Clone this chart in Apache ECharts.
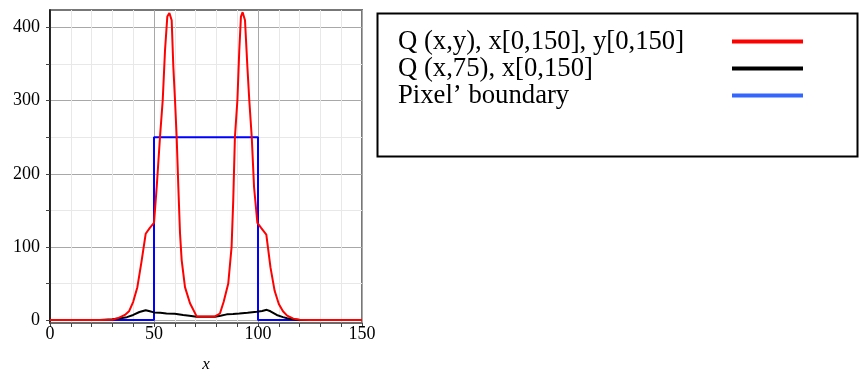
<!DOCTYPE html>
<html>
<head>
<meta charset="utf-8">
<script src="https://cdn.jsdelivr.net/npm/echarts@6/dist/echarts.min.js"></script>
<style>
  html, body { margin: 0; padding: 0; background: #fff; }
  #chart { width: 859px; height: 373px; }
</style>
</head>
<body>
<div id="chart"></div>
<script>
// Q(x,y) over the full domain (red)
const redX = [0, 24, 30, 33, 36, 38, 40, 42, 44, 46, 48, 50, 51.3, 52.9, 54.2, 55.3, 56.4, 57.4, 58.5, 59.3, 60.1, 60.9, 61.7, 62.5, 63.3, 64.9, 67.3, 70.5,
  79.3, 81.7, 83.5, 85.7, 87.3, 88.1, 88.9, 90.1, 91, 91.8, 92.6, 93.75, 94.9, 95.8, 97, 98.1, 99.7, 101.5, 104, 106, 108, 110, 112, 114, 117, 120, 125, 150];
const redY = [0, 0, 0.5, 3, 7, 12, 25, 45, 80, 118, 126, 133, 182, 251, 301, 369, 415, 420, 410, 346, 301, 250, 182, 119, 82, 45, 23, 5,
  5, 9, 25, 50, 100, 164, 250, 301, 369, 415, 421, 410, 346, 301, 250, 182, 133, 126, 117, 72, 40, 22, 12, 6, 2, 0.5, 0, 0];

// Q(x,75) (black)
const blackX = [0, 24, 30, 34, 37, 40, 43, 46, 48, 50, 53, 56, 60, 64, 67, 70.5, 79.3, 82, 85, 88, 91, 95, 99.4, 102, 104.2, 106, 109, 112, 114, 117, 120, 150];
const blackY = [0, 0, 1, 2.5, 4, 7, 11, 13.5, 12, 10.5, 10, 9, 8.5, 7, 6, 4.6, 4.6, 6, 7.8, 8.3, 9, 10, 11.4, 12.5, 14, 12, 7, 4, 2.5, 1, 0, 0];

// pixel boundary (blue)
const blueX = [0, 50, 50, 100, 100, 150];
const blueY = [0, 0, 250, 250, 0, 0];

const seriesNames = ['Q (x,y), x[0,150], y[0,150]', 'Q (x,75), x[0,150]', 'Pixel\u2019 boundary'];

const yTicks = [0, 50, 100, 150, 200, 250, 300, 350, 400];
const yLabels = [0, 100, 200, 300, 400];
const xLabels = [0, 50, 100, 150];

const pairs = (xs, ys) => xs.map((x, i) => [x, ys[i]]);

const serif = '"Liberation Serif", "Times New Roman", serif';
const chart = echarts.init(document.getElementById('chart'));

chart.setOption({
  animation: false,
  backgroundColor: '#fff',
  grid: {
    left: 50, right: 497, top: 10, bottom: 50,
    outerBoundsMode: 'none', containLabel: false,
    show: true, borderColor: '#777', borderWidth: 2, backgroundColor: 'transparent'
  },
  xAxis: {
    type: 'value', min: 0, max: 150, interval: 10,
    name: 'x', nameLocation: 'middle', nameGap: 33, nameMoveOverlap: false,
    nameTextStyle: { fontFamily: serif, fontStyle: 'italic', fontSize: 17, color: '#000' },
    axisLine: { show: true, onZero: false, lineStyle: { color: '#666', width: 1.5 } },
    axisTick: { show: true, inside: false, length: 4, lineStyle: { color: '#444' } },
    axisLabel: { customValues: xLabels, fontFamily: serif, fontSize: 18, color: '#000', margin: 2 },
    splitLine: { show: true, lineStyle: { color: ['#a8a8a8', '#e8e8e8', '#e8e8e8', '#e8e8e8', '#e8e8e8'], width: 1 } }
  },
  yAxis: {
    type: 'value', min: -4, max: 424,
    axisLine: { show: true, onZero: false, lineStyle: { color: '#000', width: 1.5 } },
    axisTick: { show: true, customValues: yTicks, inside: false, length: 4, lineStyle: { color: '#444' } },
    axisLabel: { customValues: yLabels, fontFamily: serif, fontSize: 18, color: '#000', margin: 10 },
    splitLine: { show: true, lineStyle: { color: ['#a8a8a8', '#e8e8e8'], width: 1 } }
  },
  legend: {
    orient: 'vertical', left: 398, top: 28, padding: 0, itemGap: 0,
    align: 'right', icon: 'rect', itemWidth: 71, itemHeight: 4,
    selectedMode: false,
    formatter: (name) => '{a|' + name + '}',
    textStyle: {
      fontFamily: serif, fontSize: 26.7, color: '#000',
      rich: { a: { width: 329, align: 'left', fontFamily: serif, fontSize: 26.7, lineHeight: 27.3, color: '#000' } }
    },
    data: [
      { name: seriesNames[0], itemStyle: { color: '#ff0000' } },
      { name: seriesNames[1], itemStyle: { color: '#000000' } },
      { name: seriesNames[2], itemStyle: { color: '#3366ff' } }
    ]
  },
  graphic: [{
    type: 'rect', shape: { x: 377.5, y: 13.5, width: 480, height: 143 },
    style: { fill: 'none', stroke: '#000', lineWidth: 2 }, silent: true
  }],
  series: [
    {
      name: seriesNames[2], type: 'line', data: pairs(blueX, blueY), showSymbol: false, z: 2,
      lineStyle: { color: '#0000ff', width: 2 }, itemStyle: { color: '#0000ff' }
    },
    {
      name: seriesNames[1], type: 'line', data: pairs(blackX, blackY), showSymbol: false, z: 3,
      lineStyle: { color: '#000', width: 2 }, itemStyle: { color: '#000' }
    },
    {
      name: seriesNames[0], type: 'line', data: pairs(redX, redY), showSymbol: false, z: 4,
      lineStyle: { color: '#ff0000', width: 2 }, itemStyle: { color: '#ff0000' }
    }
  ]
});
</script>
</body>
</html>
